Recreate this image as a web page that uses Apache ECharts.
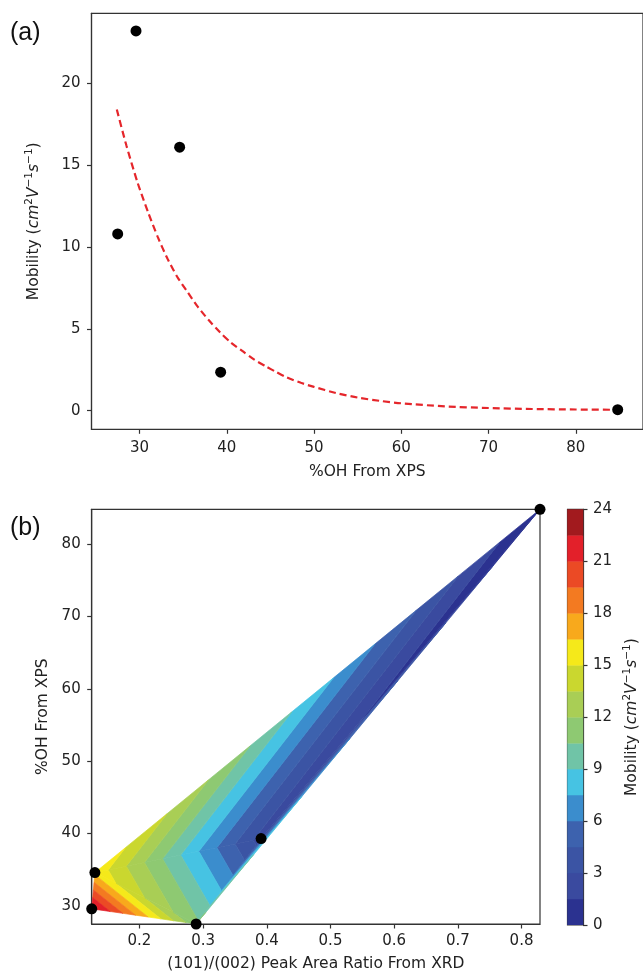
<!DOCTYPE html>
<html><head><meta charset="utf-8">
<script src="https://cdn.jsdelivr.net/npm/echarts@6/dist/echarts.min.js"></script>
<style>html,body{margin:0;padding:0;background:#fff}#chart{width:643px;height:973px}</style>
</head><body><div id="chart"></div>
<script>
// ---------------- data ----------------
const ohXps    = [27.5, 29.6, 34.6, 39.3, 84.8];
const mobility = [10.8, 23.2, 16.1, 2.35, 0.06];
const xrdRatio = [0.289, 0.125, 0.130, 0.391, 0.829];

const fitX = [27.4, 28.5, 29.8, 31.0, 32.1, 33.2, 34.3, 35.5, 36.6, 37.9, 39.2, 40.5, 41.9, 43.2, 44.5, 45.7, 46.8, 48.5, 50.0, 52.5, 55.0, 57.5, 60.0, 65.0, 70.0, 75.0, 80.0, 84.8];
const fitY = [18.4, 16.2, 13.9, 12.1, 10.6, 9.3, 8.2, 7.25, 6.4, 5.55, 4.8, 4.15, 3.6, 3.1, 2.7, 2.35, 2.05, 1.7, 1.45, 1.08, 0.8, 0.6, 0.45, 0.26, 0.16, 0.1, 0.07, 0.05];

const topXTicks = [30, 40, 50, 60, 70, 80];
const topYTicks = [0, 5, 10, 15, 20];
const botXTicks = [0.2, 0.3, 0.4, 0.5, 0.6, 0.7, 0.8];
const botYTicks = [30, 40, 50, 60, 70, 80];
const levels = [0, 1.5, 3, 4.5, 6, 7.5, 9, 10.5, 12, 13.5, 15, 16.5, 18, 19.5, 21, 22.5, 24];
const bandColors = ['#2b3290', '#3a4a9f', '#3b54a4', '#3d62ae', '#3b8dcd', '#46c3e3', '#70c4a7', '#8ec972', '#a9ce55', '#cad72f', '#f5e91a', '#f8a91c', '#f37a21', '#eb4a25', '#e3202a', '#a21a1e'];

// ------------- triangulation + filled contours (derived) -------------
function delaunay(px, py) {
  const n = px.length, tris = [];
  for (let i = 0; i < n; i++) for (let j = i + 1; j < n; j++) for (let k = j + 1; k < n; k++) {
    const ax = px[i], ay = py[i], bx = px[j], by = py[j], cx = px[k], cy = py[k];
    const d = 2 * (ax * (by - cy) + bx * (cy - ay) + cx * (ay - by));
    if (Math.abs(d) < 1e-12) continue;
    const a2 = ax * ax + ay * ay, b2 = bx * bx + by * by, c2 = cx * cx + cy * cy;
    const ux = (a2 * (by - cy) + b2 * (cy - ay) + c2 * (ay - by)) / d;
    const uy = (a2 * (cx - bx) + b2 * (ax - cx) + c2 * (bx - ax)) / d;
    const r2 = (ax - ux) ** 2 + (ay - uy) ** 2;
    let ok = true;
    for (let m = 0; m < n; m++) {
      if (m === i || m === j || m === k) continue;
      if ((px[m] - ux) ** 2 + (py[m] - uy) ** 2 < r2 * (1 - 1e-9)) { ok = false; break; }
    }
    if (ok) tris.push([i, j, k]);
  }
  return tris;
}
function clipLevel(poly, level, keepAbove) {
  const out = [];
  for (let a = 0; a < poly.length; a++) {
    const P = poly[a], Q = poly[(a + 1) % poly.length];
    const pin = keepAbove ? P[2] >= level : P[2] <= level;
    const qin = keepAbove ? Q[2] >= level : Q[2] <= level;
    if (pin) out.push(P);
    if (pin !== qin) {
      const t = (level - P[2]) / (Q[2] - P[2]);
      out.push([P[0] + t * (Q[0] - P[0]), P[1] + t * (Q[1] - P[1]), level]);
    }
  }
  return out;
}
const tris = delaunay(xrdRatio, ohXps);
const bandPolys = [];
tris.forEach(t => {
  const tri = t.map(i => [xrdRatio[i], ohXps[i], mobility[i]]);
  for (let b = 0; b < levels.length - 1; b++) {
    let p = clipLevel(tri, levels[b], true);
    if (p.length >= 3) p = clipLevel(p, levels[b + 1], false);
    if (p.length >= 3) bandPolys.push({ pts: p, band: b });
  }
});

// ---------------- chart ----------------
const FONT = 'DejaVu Sans';
function ax(extra) {
  const base = {
    type: 'value', splitLine: { show: false },
    axisLine: { show: true, onZero: false, lineStyle: { color: '#333', width: 1.2 } },
    axisTick: { show: true, inside: false, length: 4.5, lineStyle: { color: '#333', width: 1.2 } },
    axisLabel: { color: '#222', fontSize: 15, fontFamily: FONT, margin: 11 },
    nameLocation: 'middle',
    nameTextStyle: { color: '#222', fontSize: 15.5, fontFamily: FONT }
  };
  const o = Object.assign({}, base, extra);
  if (extra.axisTick) o.axisTick = Object.assign({}, base.axisTick, extra.axisTick);
  if (extra.axisLabel) o.axisLabel = Object.assign({}, base.axisLabel, extra.axisLabel);
  if (extra.nameTextStyle) o.nameTextStyle = Object.assign({}, base.nameTextStyle, extra.nameTextStyle);
  return o;
}
const unitName = 'Mobility ({i|cm}{s|2}{i|V}{s|\u22121}{i|s}{s|\u22121})';
const unitRich = {
  i: { fontStyle: 'italic', fontSize: 15.5, fontFamily: FONT, color: '#222', lineHeight: 20 },
  s: { fontSize: 10.5, fontFamily: FONT, color: '#222', verticalAlign: 'top', lineHeight: 11 }
};

const chart = echarts.init(document.getElementById('chart'), null, { renderer: 'canvas' });
chart.setOption({
  backgroundColor: '#fff',
  animation: false,
  graphic: [
    { type: 'text', left: 10, top: 21, style: { text: '(a)', font: '25px "Liberation Sans"', fill: '#111' } },
    { type: 'text', left: 10, top: 516, style: { text: '(b)', font: '25px "Liberation Sans"', fill: '#111' } }
  ],
  grid: [
    { left: 91.5, top: 13.3, width: 558.5, height: 416, show: true, borderColor: '#333', borderWidth: 1.2, backgroundColor: 'transparent' },
    { left: 91.7, top: 509.3, width: 448.3, height: 415.7, show: true, borderColor: '#333', borderWidth: 1.2, backgroundColor: 'transparent' },
    { left: 567.5, top: 509.3, width: 21.5, height: 415.7, show: true, borderColor: '#333', borderWidth: 1.2, backgroundColor: 'transparent' }
  ],
  xAxis: [
    ax({ gridIndex: 0, min: 24.5, max: 87.7, name: '%OH From XPS', nameGap: 35,
         axisTick: { customValues: topXTicks }, axisLabel: { customValues: topXTicks, margin: 11 } }),
    ax({ gridIndex: 1, min: 0.125, max: 0.829, name: '(101)/(002) Peak Area Ratio From XRD', nameGap: 32,
         axisTick: { customValues: botXTicks }, axisLabel: { customValues: botXTicks, margin: 10 } }),
    { type: 'value', gridIndex: 2, min: 0, max: 1, show: false }
  ],
  yAxis: [
    ax({ gridIndex: 0, min: -1.14, max: 24.28, name: unitName, nameGap: 48, nameRotate: 90,
         nameTextStyle: { rich: unitRich, lineHeight: 20 },
         axisTick: { customValues: topYTicks }, axisLabel: { customValues: topYTicks } }),
    ax({ gridIndex: 1, min: 27.5, max: 84.8, name: '%OH From XPS', nameGap: 33, nameRotate: 90,
         axisTick: { customValues: botYTicks }, axisLabel: { customValues: botYTicks } }),
    ax({ gridIndex: 2, min: 0, max: 24, interval: 3, position: 'right', name: unitName, nameGap: 39, nameRotate: 90,
         nameTextStyle: { rich: unitRich, lineHeight: 20 }, axisLabel: { margin: 10 } })
  ],
  series: [
    {
      type: 'line', xAxisIndex: 0, yAxisIndex: 0,
      data: fitX.map((x, i) => [x, fitY[i]]),
      showSymbol: false, smooth: 0.25,
      lineStyle: { color: '#e5262b', width: 2.2, type: [7, 4] }, z: 3
    },
    {
      type: 'scatter', xAxisIndex: 0, yAxisIndex: 0,
      data: ohXps.map((x, i) => [x, mobility[i]]),
      symbolSize: 11, itemStyle: { color: '#000', opacity: 1 }, z: 4
    },
    {
      type: 'custom', xAxisIndex: 1, yAxisIndex: 1, clip: true,
      data: bandPolys.map(p => [p.pts[0][0], p.pts[0][1]]),
      renderItem: function (params, api) {
        const bp = bandPolys[params.dataIndex];
        const c = bandColors[bp.band];
        return {
          type: 'polygon',
          shape: { points: bp.pts.map(q => api.coord([q[0], q[1]])) },
          style: { fill: c, stroke: c, lineWidth: 0.7 }
        };
      }, z: 2
    },
    {
      type: 'scatter', xAxisIndex: 1, yAxisIndex: 1, clip: true,
      data: xrdRatio.map((x, i) => [x, ohXps[i]]),
      symbolSize: 11, itemStyle: { color: '#000', opacity: 1 }, z: 4
    },
    {
      type: 'custom', xAxisIndex: 2, yAxisIndex: 2, clip: true,
      data: bandColors.map((c, b) => [0.5, (levels[b] + levels[b + 1]) / 2]),
      renderItem: function (params, api) {
        const b = params.dataIndex;
        const p0 = api.coord([0, levels[b]]);
        const p1 = api.coord([1, levels[b + 1]]);
        return {
          type: 'rect',
          shape: { x: p0[0], y: p1[1], width: p1[0] - p0[0], height: p0[1] - p1[1] },
          style: { fill: bandColors[b], stroke: bandColors[b], lineWidth: 0.5 }
        };
      }, z: 2
    }
  ]
});
</script></body></html>
